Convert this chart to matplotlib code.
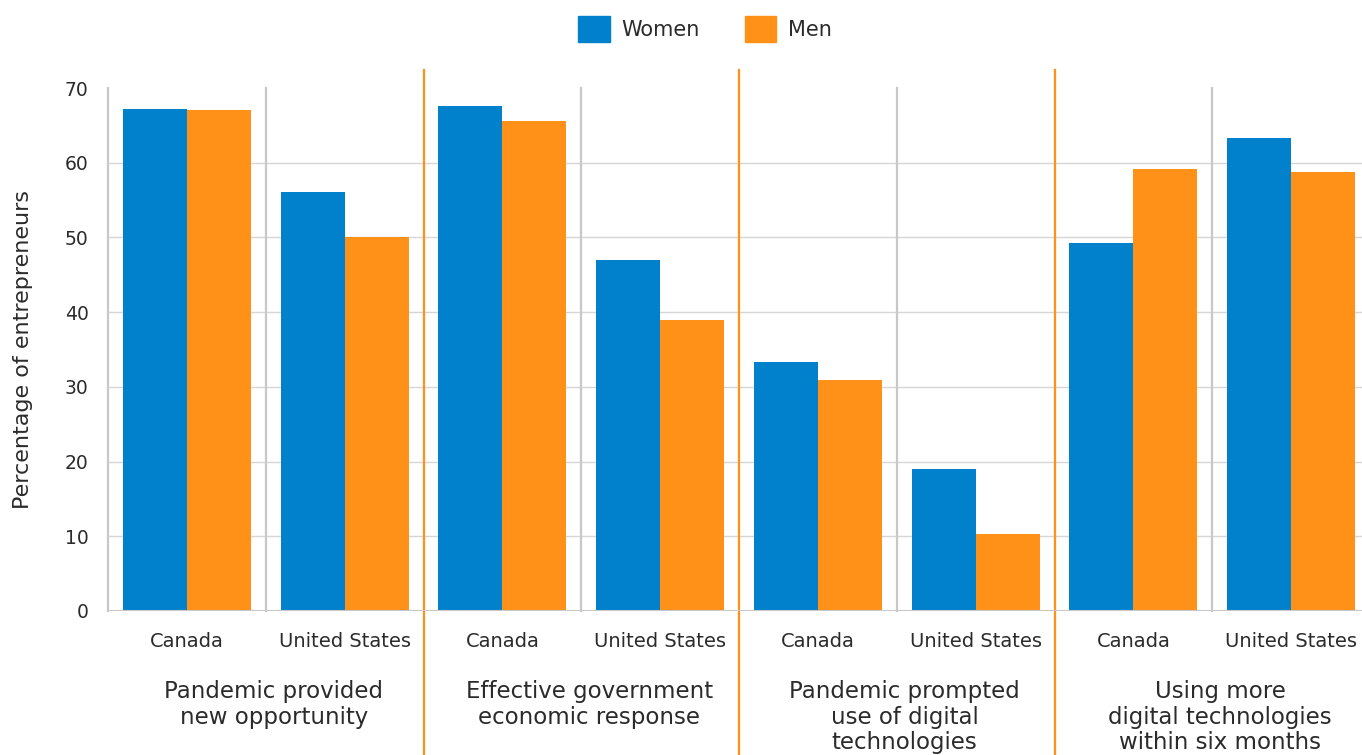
import matplotlib.pyplot as plt
from matplotlib.patches import Patch

# data
categories = [
    "Pandemic provided\nnew opportunity",
    "Effective government\neconomic response",
    "Pandemic prompted\nuse of digital\ntechnologies",
    "Using more\ndigital technologies\nwithin six months",
]
countries = ["Canada", "United States"]
women = [67.2, 56.1, 67.6, 47.0, 33.3, 19.0, 49.3, 63.3]
men = [67.1, 50.0, 65.6, 39.0, 30.9, 10.3, 59.2, 58.8]

BLUE = "#0181CB"
ORANGE = "#FF9119"
GRID = "#D6D6D6"
TEXT = "#2b2b2b"


def main():
    plt.rcParams["font.family"] = ["DejaVu Sans"]
    fig = plt.figure(figsize=(13.62, 7.55), dpi=100)
    W, H = 1362, 755
    left, right, top, bottom = 108, 1370, 88, 611
    ax = fig.add_axes([left / W, 1 - bottom / H, (right - left) / W, (bottom - top) / H])

    n = len(women)
    xs = [i + 0.5 for i in range(n)]
    bw = 0.405
    ax.bar([x - bw / 2 for x in xs], women, width=bw, color=BLUE, zorder=3)
    ax.bar([x + bw / 2 for x in xs], men, width=bw, color=ORANGE, zorder=3)

    ax.set_xlim(0, n)
    ax.set_ylim(0, 70)
    ax.set_yticks(range(0, 71, 10))
    for y in range(10, 70, 10):
        ax.axhline(y, color=GRID, lw=1.0, zorder=1)
    ax.axhline(0, color="#C8C8C8", lw=1.5, zorder=4)

    for s in ax.spines.values():
        s.set_visible(False)

    # gray separators between countries, orange between categories
    trans = ax.get_xaxis_transform()
    ax.plot([0, 0], [0, 1], color="#C8C8C8", lw=1.6, transform=trans, clip_on=False, zorder=2)
    for i in range(1, n, 2):
        ax.plot([i, i], [0, 1], color="#C8C8C8", lw=1.6, transform=trans, clip_on=False, zorder=2)
    h = bottom - top
    for i in range(2, n, 2):
        ax.plot([i, i], [(bottom - H) / h, (bottom - 70) / h], color=ORANGE,
                lw=1.6, transform=trans, clip_on=False, zorder=2)

    ax.set_xticks(xs)
    ax.set_xticklabels(countries * (n // 2), fontsize=14, color=TEXT)
    ax.tick_params(axis="x", length=0, pad=15)
    ax.tick_params(axis="y", length=0, pad=14, labelsize=13.5, labelcolor=TEXT)

    for k, cat in enumerate(categories):
        ax.text(2 * k + 1.05, (bottom - 680) / h, cat, transform=trans,
                ha="center", va="top", fontsize=16.5, color=TEXT, linespacing=1.14)

    ax.set_ylabel("Percentage of entrepreneurs", fontsize=16, color=TEXT, labelpad=23)

    handles = [Patch(color=BLUE, label="Women"), Patch(color=ORANGE, label="Men")]
    fig.legend(handles=handles, loc="center", bbox_to_anchor=(705 / W, 1 - 29 / H),
               ncol=2, frameon=False, fontsize=15, handlelength=1.5, handleheight=1.5,
               handletextpad=0.55, columnspacing=2.2, labelcolor=TEXT)

    fig.savefig("out.png", dpi=100)


if __name__ == "__main__":
    main()
